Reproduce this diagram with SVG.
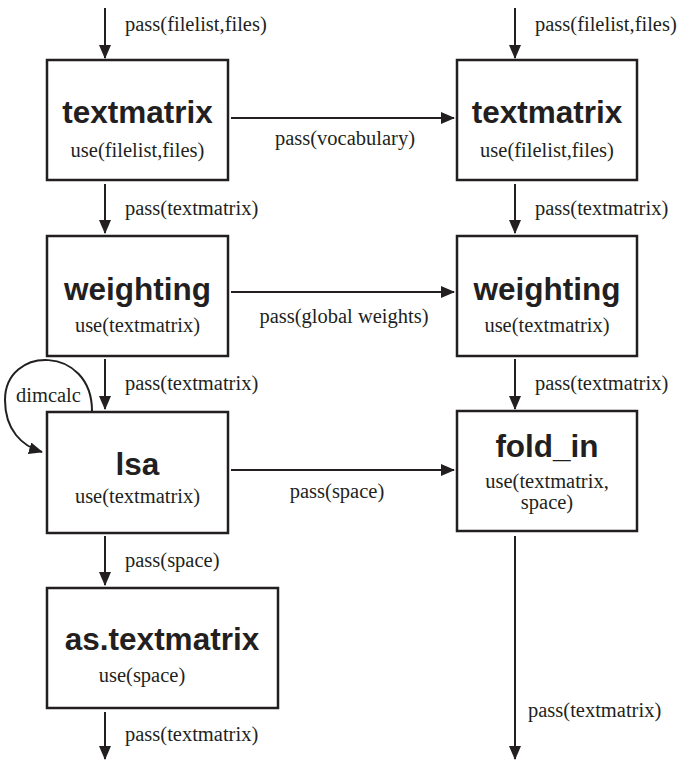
<svg xmlns="http://www.w3.org/2000/svg" width="678" height="760" viewBox="0 0 678 760">
<style>
.box{fill:#fff;stroke:#231f20;stroke-width:2.5}
.ln{fill:none;stroke:#231f20;stroke-width:2}
.t{font-family:"Liberation Sans",Arial,sans-serif;font-weight:bold;font-size:31.5px;fill:#231f20;text-anchor:middle}
.u{font-family:"Liberation Serif","Times New Roman",serif;font-size:20.5px;fill:#231f20;text-anchor:middle}
.l{font-family:"Liberation Serif","Times New Roman",serif;font-size:20.5px;fill:#231f20}
</style>
<defs>
<marker id="ah" markerWidth="14" markerHeight="12" refX="13" refY="6" orient="auto" markerUnits="userSpaceOnUse">
<path d="M0,0 L14,6 L0,12 Z" fill="#231f20"/>
</marker>
</defs>
<g id="connectors">
<line class="ln" x1="105" y1="8" x2="105" y2="58" marker-end="url(#ah)"/>
<line class="ln" x1="515" y1="8" x2="515" y2="58" marker-end="url(#ah)"/>
<line class="ln" x1="231" y1="118" x2="454" y2="118" marker-end="url(#ah)"/>
<line class="ln" x1="105" y1="184" x2="105" y2="233" marker-end="url(#ah)"/>
<line class="ln" x1="515" y1="184" x2="515" y2="233" marker-end="url(#ah)"/>
<line class="ln" x1="231" y1="292" x2="454" y2="292" marker-end="url(#ah)"/>
<line class="ln" x1="105" y1="359" x2="105" y2="409" marker-end="url(#ah)"/>
<line class="ln" x1="515" y1="359" x2="515" y2="409" marker-end="url(#ah)"/>
<path class="ln" d="M92,411 C92,345 5,345 5,400 C5,430 22,446 42,452" marker-end="url(#ah)"/>
<line class="ln" x1="231" y1="470" x2="454" y2="470" marker-end="url(#ah)"/>
<line class="ln" x1="105" y1="536" x2="105" y2="585" marker-end="url(#ah)"/>
<line class="ln" x1="515" y1="536" x2="515" y2="759" marker-end="url(#ah)"/>
<line class="ln" x1="105" y1="712" x2="105" y2="759" marker-end="url(#ah)"/>
</g>
<g id="labels">
<text class="l" x="125" y="31">pass(filelist,files)</text>
<text class="l" x="535" y="31">pass(filelist,files)</text>
<text class="u" x="345" y="145">pass(vocabulary)</text>
<text class="l" x="125" y="215">pass(textmatrix)</text>
<text class="l" x="535" y="215">pass(textmatrix)</text>
<text class="u" x="344" y="323">pass(global weights)</text>
<text class="l" x="125" y="390">pass(textmatrix)</text>
<text class="l" x="535" y="390">pass(textmatrix)</text>
<text class="l" x="16" y="402">dimcalc</text>
<text class="u" x="337" y="498">pass(space)</text>
<text class="l" x="125" y="567">pass(space)</text>
<text class="l" x="528" y="717">pass(textmatrix)</text>
<text class="l" x="125" y="741">pass(textmatrix)</text>
</g>
<g id="textmatrix1">
<rect class="box" x="47" y="60" width="181" height="120"/>
<text class="t" x="137.5" y="123">textmatrix</text>
<text class="u" x="137.5" y="157">use(filelist,files)</text>
</g>
<g id="textmatrix2">
<rect class="box" x="457" y="60" width="180" height="120"/>
<text class="t" x="547" y="123">textmatrix</text>
<text class="u" x="547" y="157">use(filelist,files)</text>
</g>
<g id="weighting1">
<rect class="box" x="47" y="236" width="181" height="120"/>
<text class="t" x="137.5" y="300">weighting</text>
<text class="u" x="137.5" y="332">use(textmatrix)</text>
</g>
<g id="weighting2">
<rect class="box" x="457" y="236" width="180" height="120"/>
<text class="t" x="547" y="300">weighting</text>
<text class="u" x="547" y="332">use(textmatrix)</text>
</g>
<g id="lsa">
<rect class="box" x="47" y="412" width="181" height="121"/>
<text class="t" x="137.5" y="475">lsa</text>
<text class="u" x="137.5" y="503">use(textmatrix)</text>
</g>
<g id="fold_in">
<rect class="box" x="457" y="411" width="180" height="120"/>
<text class="t" x="547" y="457">fold_in</text>
<text class="u" x="547" y="488">use(textmatrix,</text>
<text class="u" x="547" y="509">space)</text>
</g>
<g id="as_textmatrix">
<rect class="box" x="47" y="588" width="231" height="120"/>
<text class="t" x="162" y="650">as.textmatrix</text>
<text class="u" x="142" y="682">use(space)</text>
</g>
</svg>
